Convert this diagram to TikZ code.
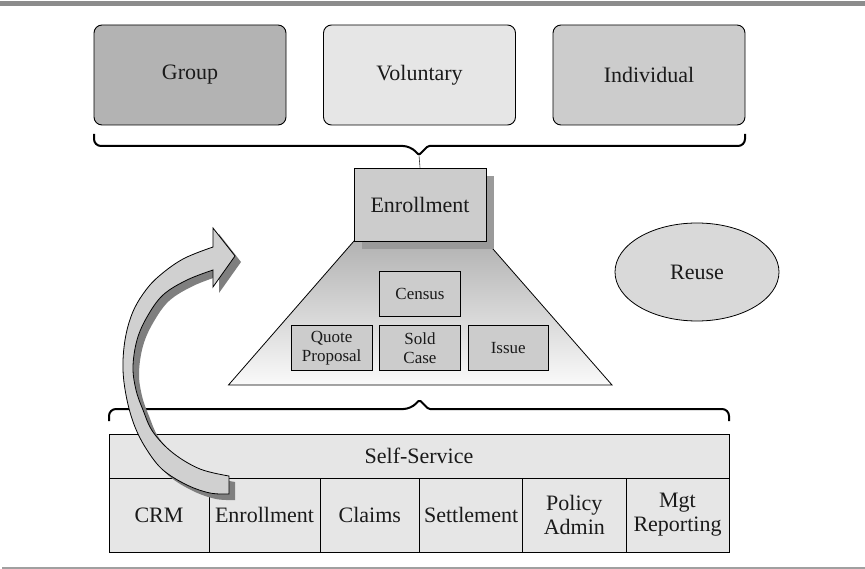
\documentclass[tikz,border=0pt]{standalone}
\usepackage{fontspec}
\setmainfont{Liberation Serif}
\usetikzlibrary{shapes.geometric,shadows}
\definecolor{grpfill}{HTML}{B3B3B3}
\definecolor{volfill}{HTML}{E6E6E6}
\definecolor{indfill}{HTML}{CCCCCC}
\definecolor{boxfill}{HTML}{CCCCCC}
\definecolor{tabfill}{HTML}{E6E6E6}
\definecolor{reusefill}{HTML}{D9D9D9}
\definecolor{shadowgray}{HTML}{9A9A9A}
\definecolor{arrowfill}{HTML}{D0D0D0}
\definecolor{arrowshadow}{HTML}{7F7F7F}
\definecolor{rulegray}{HTML}{8C8C8C}
\definecolor{rulegraylight}{HTML}{A0A0A0}
\definecolor{trtop}{HTML}{B2B2B2}
\definecolor{trbot}{HTML}{FAFAFA}
\definecolor{ink}{HTML}{1A1A1A}
\begin{document}
\begin{tikzpicture}[x=1pt,y=-1pt,
  topbox/.style={draw=black, line width=0.9pt, rounded corners=8pt, minimum width=192pt, minimum height=100pt, font=\fontsize{22}{24}\selectfont, text=ink, inner sep=0pt},
  smallbox/.style={draw=black, line width=0.8pt, fill=boxfill, minimum width=80.5pt, minimum height=44.5pt, font=\fontsize{17}{18.5}\selectfont, text=ink, align=center, inner sep=0pt},
  cell/.style={draw=black, line width=0.8pt, fill=tabfill, minimum height=74pt, font=\fontsize{22}{24}\selectfont, text=ink, align=center, inner sep=0pt},
  bracestyle/.style={draw=black, line width=2pt, line join=round},
  arrowbody/.style={fill=arrowfill, draw=black, line width=0.8pt, line join=miter},
]
\useasboundingbox (0,0) rectangle (865,569);

% rules
\draw[rulegray, line width=4.5pt] (0,3.5) -- (865,3.5);
\draw[rulegraylight, line width=2pt] (2,568) -- (865,568);

% top boxes
\node[topbox, fill=grpfill] (group) at (190,75) {Group};
\node[topbox, fill=volfill] (voluntary) at (419.5,75) {Voluntary};
\node[topbox, fill=indfill] (individual) at (649,75) {Individual};

% upper brace
\draw[bracestyle, rounded corners=7pt] (94,134) -- (94,146) -- (410,146) [rounded corners=1.5pt] -- (419,155) -- (428,146) [rounded corners=7pt] -- (745,146) -- (745,134);
\coordinate (toptip) at (419,155);

% trapezoid
\shade[top color=trtop, bottom color=trbot] (354,241) -- (486,241) -- (612,385) -- (228.5,385) -- cycle;
\draw[black, line width=0.8pt, line join=miter] (354,241) -- (486,241) -- (612,385) -- (228.5,385) -- cycle;

% enrollment box with shadow
\fill[shadowgray] (362,176) rectangle (494,249);
\node[draw=black, line width=0.9pt, fill=boxfill, minimum width=132pt, minimum height=73pt, inner sep=0pt, font=\fontsize{22}{24}\selectfont, text=ink] (enroll) at (420,204.5) {Enrollment};
\draw[black!80, line width=0.6pt] (toptip) -- (enroll.north);

% inner boxes
\node[smallbox] (census) at (420,294) {Census};
\node[smallbox] (quote) at (331.7,348) {Quote\\Proposal};
\node[smallbox] (sold) at (420,348) {Sold\\Case};
\node[smallbox] (issue) at (508.3,348) {Issue};

% reuse
\node[ellipse, draw=black, line width=0.8pt, fill=reusefill, minimum width=164pt, minimum height=98pt, inner sep=0pt, font=\fontsize{22}{24}\selectfont, text=ink] (reuse) at (697,272) {Reuse};

% lower brace
\draw[bracestyle, rounded corners=7pt] (109,421) -- (109,409) -- (410.5,409) [rounded corners=1.5pt] -- (419.5,400) -- (428.5,409) [rounded corners=7pt] -- (729,409) -- (729,421);
\coordinate (bottip) at (419.5,400);

% table
\node[cell, minimum width=620pt, minimum height=44pt] (self) at (419,456) {Self-Service};
\node[cell, minimum width=100pt] (crm) at (159,515) {CRM};
\node[cell, minimum width=111pt] (enrollb) at (264.5,515) {Enrollment};
\node[cell, minimum width=99.5pt] (claims) at (369.75,515) {Claims};
\node[cell, minimum width=103.2pt] (settle) at (471.1,515) {Settlement};
\node[cell, minimum width=103.3pt] (policy) at (574.35,515) {Policy\\Admin};
\node[cell, minimum width=103pt] (mgt) at (677.5,515) {Mgt\\Reporting};

% curved arrow
\def\arrowpath{(229,476) -- (229,494)
  -- plot[smooth, tension=0.6] coordinates {(229,494) (210,493) (187,485) (163,470) (147,450) (135,427) (127,400) (123,370) (125,340) (132,314) (143,294) (158,277) (183,259) (213,247)}
  -- (213,228) -- (235,256) -- (213,287) -- (213,270)
  -- plot[smooth, tension=0.6] coordinates {(213,270) (187,280) (163,295) (147,317) (137,340) (133,367) (136,390) (143,410) (153,432) (173,453) (200,469) (229,476)}
  -- cycle}
\fill[arrowshadow, shift={(6,6)}] \arrowpath;
\path[arrowbody] \arrowpath;
\end{tikzpicture}
\end{document}
